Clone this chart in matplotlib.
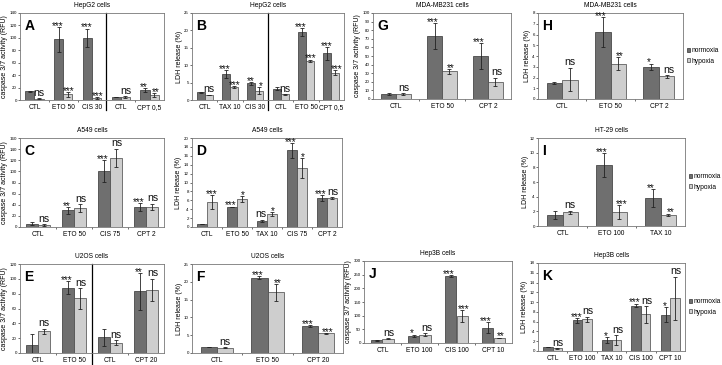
import matplotlib
matplotlib.use('Agg')
import matplotlib.pyplot as plt
import numpy as np

plt.rcParams['font.family'] = ['Liberation Sans', 'DejaVu Sans']

W, H = 722., 365.

CASP = 'caspase 3/7 activity (RFU)'
LDH = 'LDH release (%)'

# panel A - HepG2 caspase
a_cats = ['CTL', 'ETO 50', 'CIS 30', 'CTL', 'CPT 0,5']
a_norm = [14, 98, 100, 5, 16]
a_norm_err = [1, 20, 15, 0.5, 3]
a_hyp = [2, 9, 3, 5, 8]
a_hyp_err = [0.5, 4, 1.5, 1, 3]
a_sig_n = ['', '***', '***', '', '**']
a_sig_h = ['ns', '***', '***', 'ns', '**']

# panel B - HepG2 LDH
b_cats = ['CTL', 'TAX 10', 'CIS 30', 'CTL', 'ETO 50', 'CPT 0,5']
b_norm = [2.2, 7.4, 4.8, 3.3, 19.5, 13.4]
b_norm_err = [0.2, 1.1, 0.4, 0.3, 1.2, 1.9]
b_hyp = [1.4, 3.7, 2.7, 1.6, 11.2, 7.9]
b_hyp_err = [0.1, 0.2, 1.0, 0.1, 0.4, 0.8]
b_sig_n = ['', '***', '**', '', '***', '***']
b_sig_h = ['ns', '***', '*', 'ns', '***', '***']

# panel G - MDA-MB231 caspase
g_cats = ['CTL', 'ETO 50', 'CPT 2']
g_norm = [6, 73, 50]
g_norm_err = [1, 15, 15]
g_hyp = [6, 32, 20]
g_hyp_err = [1, 3, 5]
g_sig_n = ['', '***', '***']
g_sig_h = ['ns', '**', 'ns']

# panel H - MDA-MB231 LDH
h_cats = ['CTL', 'ETO 50', 'CPT 2']
h_norm = [1.5, 6.2, 3.0]
h_norm_err = [0.1, 1.4, 0.3]
h_hyp = [1.8, 3.3, 2.1]
h_hyp_err = [1.1, 0.6, 0.1]
h_sig_n = ['', '***', '*']
h_sig_h = ['ns', '**', 'ns']

# panel C - A549 caspase
c_cats = ['CTL', 'ETO 50', 'CIS 75', 'CPT 2']
c_norm = [6, 30, 101, 36]
c_norm_err = [3, 6, 20, 7]
c_hyp = [3.6, 33.5, 124, 36]
c_hyp_err = [1, 7, 17, 6]
c_sig_n = ['', '**', '***', '***']
c_sig_h = ['ns', 'ns', 'ns', 'ns']

# panel D - A549 LDH
d_cats = ['CTL', 'ETO 50', 'TAX 10', 'CIS 75', 'CPT 2']
d_norm = [0.7, 4.5, 1.4, 17.2, 6.5]
d_norm_err = [0.05, 0.1, 0.2, 1.6, 0.7]
d_hyp = [5.6, 6.3, 2.9, 13.3, 6.5]
d_hyp_err = [1.6, 0.7, 0.4, 2.2, 0.2]
d_sig_n = ['', '***', 'ns', '***', '***']
d_sig_h = ['***', '*', '*', '*', 'ns']

# panel I - HT-29 LDH
i_cats = ['CTL', 'ETO 100', 'TAX 10']
i_norm = [1.5, 8.3, 3.8]
i_norm_err = [0.55, 1.6, 1.2]
i_hyp = [1.9, 1.9, 1.5]
i_hyp_err = [0.2, 0.95, 0.2]
i_sig_n = ['', '***', '**']
i_sig_h = ['ns', '***', '**']

# panel E - U2OS caspase
e_cats = ['CTL', 'ETO 50', 'CTL', 'CPT 20']
e_norm = [11, 88, 21, 83]
e_norm_err = [14, 9, 12, 25]
e_hyp = [29, 73.5, 14, 85]
e_hyp_err = [4, 14, 3, 15]
e_sig_n = ['', '***', '', '**']
e_sig_h = ['ns', 'ns', 'ns', 'ns']

# panel F - U2OS LDH
f_cats = ['CTL', 'ETO 50', 'CPT 20']
f_norm = [1.7, 21.2, 7.6]
f_norm_err = [0.1, 0.5, 0.3]
f_hyp = [1.5, 17.0, 5.5]
f_hyp_err = [0.1, 2.3, 0.2]
f_sig_n = ['', '***', '***']
f_sig_h = ['ns', '**', '***']

# panel J - Hep3B caspase
j_cats = ['CTL', 'ETO 100', 'CIS 100', 'CPT 10']
j_norm = [10, 26, 244, 56]
j_norm_err = [2, 5, 3, 20]
j_hyp = [15, 30, 98, 18]
j_hyp_err = [2, 6, 22, 1]
j_sig_n = ['', '*', '***', '***']
j_sig_h = ['ns', 'ns', '***', '**']

# panel K - Hep3B LDH
k_cats = ['CTL', 'ETO 100', 'TAX 10', 'CIS 100', 'CPT 10']
k_norm = [0.8, 6.3, 2.2, 9.3, 7.4]
k_norm_err = [0.05, 0.5, 0.6, 0.4, 1.5]
k_hyp = [0.55, 6.5, 2.2, 7.5, 10.8]
k_hyp_err = [0.05, 0.5, 1.0, 1.7, 4.4]
k_sig_n = ['', '***', '*', '***', '*']
k_sig_h = ['ns', 'ns', 'ns', 'ns', 'ns']

col_n = '#6f6f6f'
col_h = '#cecece'

fig = plt.figure(figsize=(W / 100, H / 100), dpi=100, facecolor='white')


def add_ax(l, r, t, b):
    return fig.add_axes([l / W, 1 - b / H, (r - l) / W, (b - t) / H])


def panel(ax, cats, nv, ne, hv, he, sn, sh, ymax, ystep, ylabel, title,
          letter, divider=None, legend=False):
    x = np.arange(len(cats))
    w = 0.32
    ax.bar(x - w / 2, nv, w, color=col_n, edgecolor='#333333', lw=0.5,
           label='normoxia')
    ax.bar(x + w / 2, hv, w, color=col_h, edgecolor='#444444', lw=0.5,
           label='hypoxia')
    ax.errorbar(x - w / 2, nv, yerr=ne, fmt='none', ecolor='#222222',
                elinewidth=0.6, capsize=1.2, capthick=0.6)
    ax.errorbar(x + w / 2, hv, yerr=he, fmt='none', ecolor='#222222',
                elinewidth=0.6, capsize=1.2, capthick=0.6)
    for i in range(len(cats)):
        # nudge the two labels apart when both bars carry one
        both = bool(sn[i]) and bool(sh[i])
        dx = 0.04 if both else 0
        for xx, v, e, s in ((x[i] - w / 2 - dx, nv[i], ne[i], sn[i]),
                            (x[i] + w / 2 + dx, hv[i], he[i], sh[i])):
            if not s:
                continue
            if s == 'ns':
                ax.text(xx, v + e + ymax * 0.005, s, ha='center',
                        va='bottom', fontsize=7.6, color='#111111')
            else:
                ax.text(xx, v + e - ymax * 0.045, s, ha='center',
                        va='bottom', fontsize=7.2, color='#111111')
    ax.set_xlim(-0.5, len(cats) - 0.5)
    ax.set_ylim(0, ymax)
    ax.set_yticks(np.arange(0, ymax + ystep / 2, ystep))
    ax.tick_params(axis='y', labelsize=3.2, length=1.5, width=0.4, pad=0.8)
    ax.set_xticks(x)
    ax.set_xticklabels(cats, fontsize=4.8)
    ax.set_xticks(np.arange(0.5, len(cats) - 0.5), minor=True)
    ax.tick_params(axis='x', which='major', length=0, pad=3)
    ax.tick_params(axis='x', which='minor', length=1.5, width=0.4)
    for sp in ax.spines.values():
        sp.set_color('#777777')
        sp.set_linewidth(0.6)
    ax.set_ylabel(ylabel, fontsize=5, labelpad=1)
    ax.set_title(title, fontsize=4.8, pad=4)
    ax.text(0.03, 0.93, letter, transform=ax.transAxes, fontsize=10,
            fontweight='bold', va='top', ha='left')
    if divider is not None:
        ax.axvline(divider, ymin=-0.12, ymax=1, color='black', lw=0.9,
                   clip_on=False)
    if legend:
        ax.legend(loc='center left', bbox_to_anchor=(1.01, 0.5),
                  frameon=False, fontsize=4.8, handlelength=0.5,
                  handleheight=0.5, handletextpad=0.2, labelspacing=0.5,
                  borderaxespad=0)


ax_a = add_ax(20, 164, 13, 100)
panel(ax_a, a_cats, a_norm, a_norm_err, a_hyp, a_hyp_err, a_sig_n, a_sig_h,
      140, 20, CASP, 'HepG2 cells', 'A', divider=2.5)

ax_b = add_ax(192, 344, 13, 100)
panel(ax_b, b_cats, b_norm, b_norm_err, b_hyp, b_hyp_err, b_sig_n, b_sig_h,
      25, 5, LDH, 'HepG2 cells', 'B', divider=2.5)

ax_g = add_ax(373, 511, 13, 99)
panel(ax_g, g_cats, g_norm, g_norm_err, g_hyp, g_hyp_err, g_sig_n, g_sig_h,
      100, 10, CASP, 'MDA-MB231 cells', 'G')

ax_h = add_ax(538, 683, 13, 99)
panel(ax_h, h_cats, h_norm, h_norm_err, h_hyp, h_hyp_err, h_sig_n, h_sig_h,
      8, 1, LDH, 'MDA-MB231 cells', 'H', legend=True)

ax_c = add_ax(20, 164, 138, 227)
panel(ax_c, c_cats, c_norm, c_norm_err, c_hyp, c_hyp_err, c_sig_n, c_sig_h,
      160, 20, CASP, 'A549 cells', 'C')

ax_d = add_ax(192, 342, 138, 227)
panel(ax_d, d_cats, d_norm, d_norm_err, d_hyp, d_hyp_err, d_sig_n, d_sig_h,
      20, 2, LDH, 'A549 cells', 'D')

ax_i = add_ax(538, 685, 138, 226)
panel(ax_i, i_cats, i_norm, i_norm_err, i_hyp, i_hyp_err, i_sig_n, i_sig_h,
      12, 2, LDH, 'HT-29 cells', 'I', legend=True)

ax_e = add_ax(20, 164, 264, 353)
panel(ax_e, e_cats, e_norm, e_norm_err, e_hyp, e_hyp_err, e_sig_n, e_sig_h,
      120, 20, CASP, 'U2OS cells', 'E', divider=1.5)

ax_f = add_ax(192, 343, 264, 353)
panel(ax_f, f_cats, f_norm, f_norm_err, f_hyp, f_hyp_err, f_sig_n, f_sig_h,
      25, 5, LDH, 'U2OS cells', 'F')

ax_j = add_ax(364, 512, 261, 343)
panel(ax_j, j_cats, j_norm, j_norm_err, j_hyp, j_hyp_err, j_sig_n, j_sig_h,
      300, 50, CASP, 'Hep3B cells', 'J')

ax_k = add_ax(538, 685, 263, 351)
panel(ax_k, k_cats, k_norm, k_norm_err, k_hyp, k_hyp_err, k_sig_n, k_sig_h,
      18, 2, LDH, 'Hep3B cells', 'K', legend=True)

fig.savefig('out.png', dpi=100, facecolor='white')
